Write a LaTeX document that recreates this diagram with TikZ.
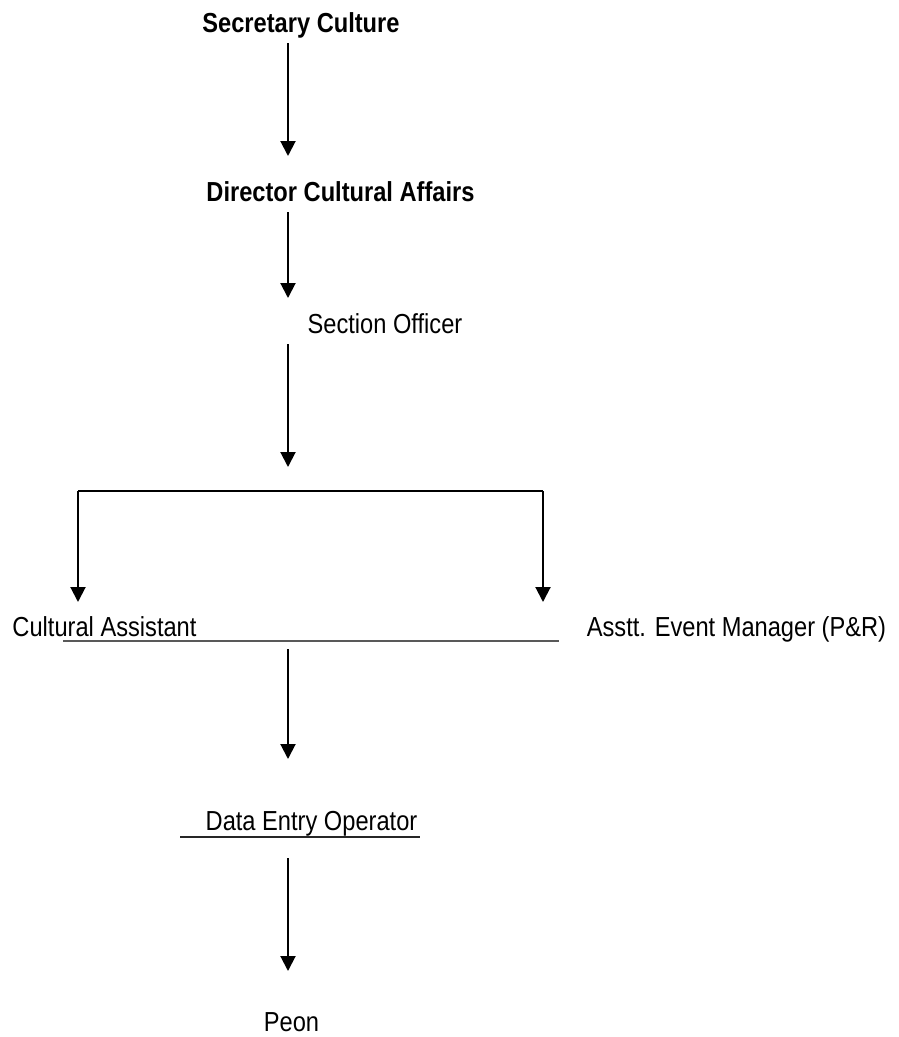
\documentclass[tikz,border=0pt]{standalone}
\usepackage{fontspec}
\setmainfont{Liberation Sans}[FakeStretch=0.86]
\usetikzlibrary{arrows.meta}
\begin{document}
\begin{tikzpicture}[x=1pt,y=-1pt,
  lbl/.style={anchor=base,inner sep=0pt,font=\fontsize{27.5}{33}\selectfont},
  blbl/.style={lbl,font=\fontsize{27.5}{33}\selectfont\bfseries},
  arr/.style={line width=2pt,-{Triangle[width=15pt,length=15pt]}},
  conn/.style={line width=2pt},
  uline/.style={line width=1.6pt,black!65}]
\useasboundingbox (0,0) rectangle (899,1037);
% labels
\node[blbl] (sec) at (301,32) {Secretary Culture};
\node[blbl] (dir) at (340.5,201) {Director Cultural Affairs};
\node[lbl] (so) at (385,333) {Section Officer};
\node[lbl] (ca) at (104.5,636) {Cultural Assistant};
\node[lbl] (aem) at (736.5,636) {Asstt. Event Manager (P\&R)};
\node[lbl] (deo) at (311.5,830) {Data Entry Operator};
\node[lbl] (peon) at (291.5,1031) {Peon};
% coordinates
\coordinate (a1s) at (288,43);
\coordinate (a1e) at (288,156);
\coordinate (a2s) at (288,212);
\coordinate (a2e) at (288,298);
\coordinate (a3s) at (288,344);
\coordinate (a3e) at (288,467);
\coordinate (bl) at (78,491);
\coordinate (br) at (543,491);
\coordinate (blt) at (78,602);
\coordinate (brt) at (543,602);
\coordinate (u1s) at (63,641);
\coordinate (u1e) at (559,641);
\coordinate (a4s) at (288,649);
\coordinate (a4e) at (288,759);
\coordinate (u2s) at (180,837);
\coordinate (u2e) at (420,837);
\coordinate (a5s) at (288,858);
\coordinate (a5e) at (288,971);
% connectors
\draw[arr] (a1s) -- (a1e);
\draw[arr] (a2s) -- (a2e);
\draw[arr] (a3s) -- (a3e);
\draw[conn] (bl) -- (br);
\draw[arr] (bl) -- (blt);
\draw[arr] (br) -- (brt);
\draw[uline] (u1s) -- (u1e);
\draw[arr] (a4s) -- (a4e);
\draw[line width=1.6pt,black!85] (u2s) -- (u2e);
\draw[arr] (a5s) -- (a5e);
\end{tikzpicture}
\end{document}
